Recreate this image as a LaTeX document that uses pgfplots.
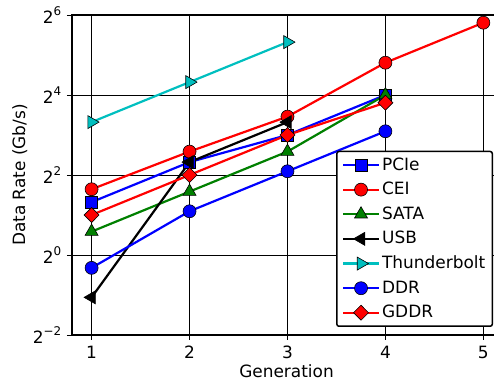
\documentclass[border=0pt]{standalone}
\usepackage{fontspec}
\setmainfont{DejaVu Sans}
\usepackage{pgfplots}
\pgfplotsset{compat=1.18}

\definecolor{mpgreen}{rgb}{0,0.5,0}
\definecolor{mpcyan}{rgb}{0,0.75,0.75}

\newcommand{\pw}[1]{2\raisebox{0.85ex}{\fontsize{12}{14}\selectfont #1}}

\begin{document}
\fontsize{17}{20}\selectfont
\begin{tikzpicture}
\begin{axis}[
  scale only axis,
  width=429bp, height=320bp,
  xmin=0.8, xmax=5.18,
  ymode=log, log basis y=2,
  ymin=0.25, ymax=64,
  xtick={1,2,3,4,5},
  ytick={0.25,1,4,16,64},
  yticklabels={\pw{−2},\pw{0},\pw{2},\pw{4},\pw{6}},
  yminorticks=false,
  tick pos=left,
  tick align=outside,
  major tick length=5bp,
  every tick/.style={black, line width=0.8bp},
  /pgf/number format/assume math mode=true,
  ticklabel style={font=\fontsize{17}{20}\selectfont},
  label style={font=\fontsize{17}{20}\selectfont},
  xlabel={Generation},
  ylabel={Data Rate (Gb/s)},
  xlabel style={yshift=6bp},
  ylabel style={yshift=-6bp},
  grid=major,
  major grid style={black, line width=0.6bp},
  axis line style={line width=1.6bp},
  legend cell align=left,
  legend style={at={(1,0)}, anchor=south east, xshift=-8bp, yshift=8bp,
    draw=black, line width=1.5bp, rounded corners=2bp,
    font=\fontsize{17}{20}\selectfont, row sep=5.5bp,
    inner xsep=5bp, inner ysep=4bp},
  legend image code/.code={%
    \draw[mark repeat=2, mark phase=2, line width=2.2bp]
      plot coordinates {(0bp,0bp) (18bp,0bp) (36bp,0bp)};},
]
% PCIe
\addplot[blue, line width=2.2bp, mark=square*, mark size=6bp,
  mark options={solid, fill=blue, draw=black, line width=0.6bp}]
  coordinates {(1,2.5) (2,5) (3,8) (4,16)};
\addlegendentry{PCIe}
% CEI
\addplot[red, line width=2.2bp, mark=*, mark size=6.5bp,
  mark options={solid, fill=red, draw=black, line width=0.6bp}]
  coordinates {(1,3.125) (2,6) (3,11) (4,28) (5,56)};
\addlegendentry{CEI}
% SATA
\addplot[mpgreen, line width=2.2bp, mark=triangle*, mark size=7.5bp,
  mark options={solid, fill=mpgreen, draw=black, line width=0.6bp}]
  coordinates {(1,1.5) (2,3) (3,6) (4,16)};
\addlegendentry{SATA}
% USB
\addplot[black, line width=2.2bp, mark=triangle*, mark size=7.5bp,
  mark options={solid, fill=black, draw=black, line width=0.6bp, rotate=90}]
  coordinates {(1,0.48) (2,5) (3,10)};
\addlegendentry{USB}
% Thunderbolt
\addplot[mpcyan, line width=2.2bp, mark=triangle*, mark size=7.5bp,
  mark options={solid, fill=mpcyan, draw=black, line width=0.6bp, rotate=-90}]
  coordinates {(1,10) (2,20) (3,40)};
\addlegendentry{Thunderbolt}
% DDR
\addplot[blue, line width=2.2bp, mark=*, mark size=6.5bp,
  mark options={solid, fill=blue, draw=black, line width=0.6bp}]
  coordinates {(1,0.8) (2,2.133) (3,4.266) (4,8.533)};
\addlegendentry{DDR}
% GDDR
\addplot[red, line width=2.2bp, mark=diamond*, mark size=7.5bp,
  mark options={solid, fill=red, draw=black, line width=0.6bp, xscale=1.33}]
  coordinates {(1,2) (2,4) (3,8) (4,14)};
\addlegendentry{GDDR}
\end{axis}
\pgfresetboundingbox
\path ([shift={(-72bp,-46bp)}]current axis.south west)
  rectangle ([shift={(-7bp,15bp)}]current axis.north east);
\end{tikzpicture}
\end{document}
